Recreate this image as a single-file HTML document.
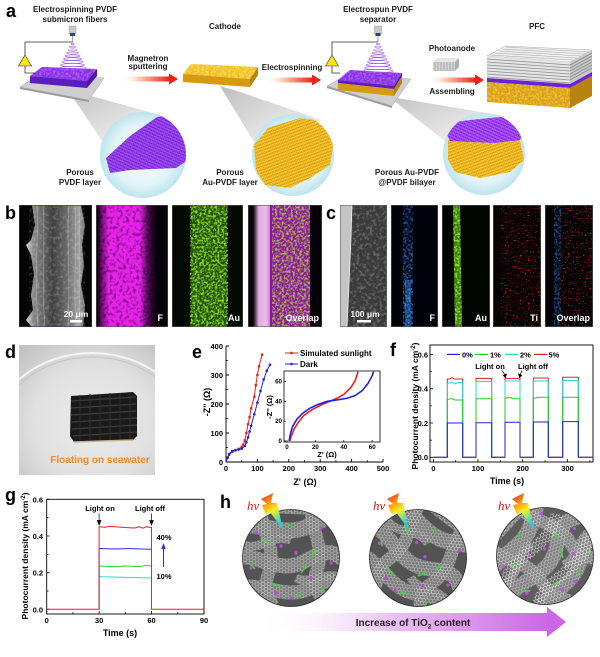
<!DOCTYPE html>
<html><head><meta charset="utf-8">
<style>
html,body{margin:0;padding:0;background:#fff;}
svg{display:block;}
text{font-family:"Liberation Sans",Arial,sans-serif;font-weight:bold;}
</style></head><body>
<svg width="600" height="657" viewBox="0 0 600 657" xmlns="http://www.w3.org/2000/svg" xmlns:xlink="http://www.w3.org/1999/xlink">
<defs>
 <linearGradient id="arr" x1="0" x2="1" y1="0" y2="0">
  <stop offset="0" stop-color="#fff" stop-opacity="0"/>
  <stop offset="0.35" stop-color="#fbcdb3"/>
  <stop offset="1" stop-color="#e8231a"/>
 </linearGradient>
 <radialGradient id="cyc" cx="0.5" cy="0.5" r="0.5">
  <stop offset="0" stop-color="#f6fcfd"/>
  <stop offset="0.7" stop-color="#e2f4f8"/>
  <stop offset="1" stop-color="#bde4ee"/>
 </radialGradient>
 <linearGradient id="wedge" x1="0" y1="0" x2="1" y2="1">
  <stop offset="0" stop-color="#b5b5b5" stop-opacity="0.9"/>
  <stop offset="1" stop-color="#e6e6e6" stop-opacity="0.5"/>
 </linearGradient>
 <pattern id="pm" width="6" height="6" patternUnits="userSpaceOnUse" patternTransform="rotate(25)">
  <rect width="6" height="6" fill="#7426dc"/>
  <path d="M0,1.5H6M0,4.5H6" stroke="#c35cff" stroke-width="1.4"/>
  <path d="M1.5,0V6M4.5,0V6" stroke="#9a44f4" stroke-width="1"/>
 </pattern>
 <pattern id="gm" width="6" height="6" patternUnits="userSpaceOnUse" patternTransform="rotate(-20)">
  <rect width="6" height="6" fill="#d99a10"/>
  <path d="M0,1.5H6M0,4.5H6" stroke="#fbd23a" stroke-width="1.4"/>
  <path d="M1.5,0V6M4.5,0V6" stroke="#efb520" stroke-width="1"/>
 </pattern>
 <pattern id="hex" width="6" height="3.464" patternUnits="userSpaceOnUse">
  <path d="M0,1.732 L1,0 L3,0 L4,1.732 L3,3.464 L1,3.464 Z M4,1.732 H6" fill="none" stroke="#d6d6d6" stroke-width="0.45"/>
 </pattern>
 <pattern id="hex2" width="6" height="3.464" patternUnits="userSpaceOnUse">
  <path d="M0,1.732 L1,0 L3,0 L4,1.732 L3,3.464 L1,3.464 Z M4,1.732 H6" fill="none" stroke="#f2f2f2" stroke-width="0.5"/>
 </pattern>
 <filter id="spk" x="0" y="0" width="1" height="1">
  <feTurbulence type="fractalNoise" baseFrequency="0.45" numOctaves="2" seed="4" result="n"/>
  <feColorMatrix in="n" type="matrix" values="0 0 0 0 0  0 0 0 0 0  0 0 0 0 0  4 0 0 0 -1.7" result="a"/>
  <feComposite in="SourceGraphic" in2="a" operator="in"/>
 </filter>
 <filter id="spk2" x="0" y="0" width="1" height="1">
  <feTurbulence type="fractalNoise" baseFrequency="0.3" numOctaves="2" seed="9" result="n"/>
  <feColorMatrix in="n" type="matrix" values="0 0 0 0 0  0 0 0 0 0  0 0 0 0 0  4 0 0 0 -1.9" result="a"/>
  <feComposite in="SourceGraphic" in2="a" operator="in"/>
 </filter>
 <filter id="sparse" x="0" y="0" width="1" height="1">
  <feTurbulence type="fractalNoise" baseFrequency="0.6" numOctaves="1" seed="2" result="n"/>
  <feColorMatrix in="n" type="matrix" values="0 0 0 0 0  0 0 0 0 0  0 0 0 0 0  9 0 0 0 -5.6" result="a"/>
  <feComposite in="SourceGraphic" in2="a" operator="in"/>
 </filter>
 <linearGradient id="magF" x1="0" x2="1" y1="0" y2="0">
  <stop offset="0" stop-color="#e01ee4" stop-opacity="0"/>
  <stop offset="0.1" stop-color="#e01ee4" stop-opacity="0.6"/>
  <stop offset="0.2" stop-color="#e822ec" stop-opacity="1"/>
  <stop offset="0.72" stop-color="#e822ec" stop-opacity="1"/>
  <stop offset="0.85" stop-color="#b018b8" stop-opacity="0.45"/>
  <stop offset="1" stop-color="#800888" stop-opacity="0"/>
 </linearGradient>
 <linearGradient id="pinkB" x1="0" x2="1" y1="0" y2="0">
  <stop offset="0" stop-color="#c890c8" stop-opacity="0"/>
  <stop offset="0.3" stop-color="#e0b0e0"/>
  <stop offset="0.7" stop-color="#e8bce8"/>
  <stop offset="1" stop-color="#c860d0"/>
 </linearGradient>
 <linearGradient id="blueF" x1="0" x2="0" y1="0" y2="1">
  <stop offset="0" stop-color="#1a4a90"/>
  <stop offset="0.6" stop-color="#2a70c8"/>
  <stop offset="1" stop-color="#3a90f0"/>
 </linearGradient>
 <linearGradient id="bolt" x1="0" y1="0" x2="0.4" y2="1">
  <stop offset="0" stop-color="#e8201a"/>
  <stop offset="0.35" stop-color="#ff9a10"/>
  <stop offset="0.6" stop-color="#f4f020"/>
  <stop offset="1" stop-color="#20d0e8"/>
 </linearGradient>
 <linearGradient id="harr" x1="0" x2="1" y1="0" y2="0">
  <stop offset="0" stop-color="#fff" stop-opacity="0"/>
  <stop offset="0.45" stop-color="#ecc4f4"/>
  <stop offset="1" stop-color="#cc66e6"/>
 </linearGradient>
 <linearGradient id="semg" x1="0" x2="1" y1="0" y2="0">
  <stop offset="0" stop-color="#dadada"/>
  <stop offset="0.12" stop-color="#8a8a8a"/>
  <stop offset="0.45" stop-color="#3e3e3e"/>
  <stop offset="0.7" stop-color="#6a6a6a"/>
  <stop offset="0.9" stop-color="#a0a0a0"/>
  <stop offset="1" stop-color="#707070"/>
 </linearGradient>
 <radialGradient id="photo" cx="0.55" cy="0.6" r="0.75">
  <stop offset="0" stop-color="#ececec"/>
  <stop offset="0.6" stop-color="#e0e0e0"/>
  <stop offset="1" stop-color="#c4c4c4"/>
 </radialGradient>
 <clipPath id="c1"><circle cx="143" cy="155" r="43"/></clipPath>
 <clipPath id="c2"><circle cx="293" cy="155" r="41"/></clipPath>
 <clipPath id="c3"><circle cx="484" cy="154" r="41"/></clipPath>
 <clipPath id="hcl"><circle cx="0" cy="0" r="48.5"/></clipPath>
 <clipPath id="dcl"><rect x="19" y="345" width="136" height="130"/></clipPath>
 <g id="rib">
  <rect x="-55" y="-55" width="110" height="110" fill="#4a4a4a"/>
  <g fill="none" stroke="#747474">
   <path d="M-50,-50 C-20,-55 10,-45 45,-52" stroke-width="12"/>
   <path d="M-60,-28 C-35,-42 -10,-18 18,-32 S50,-45 62,-30" stroke-width="16"/>
   <path d="M-60,2 C-38,-10 -15,18 12,4 S42,-8 60,8" stroke-width="15"/>
   <path d="M-58,32 C-32,20 -8,44 20,30 S45,24 60,38" stroke-width="14"/>
   <path d="M-28,-60 C-36,-30 -12,-12 -22,14 S-12,42 -20,60" stroke-width="13"/>
   <path d="M22,-60 C14,-34 36,-14 26,12 S42,38 30,60" stroke-width="13"/>
   <path d="M-55,52 C-30,48 0,62 30,55" stroke-width="12"/>
   <path d="M-50,-14 C-30,-5 -20,-25 0,-18" stroke-width="9"/>
   <path d="M5,20 C20,28 35,10 55,22" stroke-width="9"/>
  </g>
  <g fill="none" stroke="url(#hex)">
   <path d="M-50,-50 C-20,-55 10,-45 45,-52" stroke-width="12"/>
   <path d="M-60,-28 C-35,-42 -10,-18 18,-32 S50,-45 62,-30" stroke-width="16"/>
   <path d="M-60,2 C-38,-10 -15,18 12,4 S42,-8 60,8" stroke-width="15"/>
   <path d="M-58,32 C-32,20 -8,44 20,30 S45,24 60,38" stroke-width="14"/>
   <path d="M-28,-60 C-36,-30 -12,-12 -22,14 S-12,42 -20,60" stroke-width="13"/>
   <path d="M22,-60 C14,-34 36,-14 26,12 S42,38 30,60" stroke-width="13"/>
   <path d="M-55,52 C-30,48 0,62 30,55" stroke-width="12"/>
   <path d="M-50,-14 C-30,-5 -20,-25 0,-18" stroke-width="9"/>
   <path d="M5,20 C20,28 35,10 55,22" stroke-width="9"/>
  </g>
  <path d="M-30,-20 l8,5 M10,15 l6,-8 M-20,25 l10,3 M25,-10 l-4,9 M-5,-35 l7,4 M30,30 l6,6 M-42,5 l6,6 M5,38 l8,-3" stroke="#3bd13b" stroke-width="1.6" fill="none"/>
  <g fill="#c23be8">
   <circle cx="-35" cy="-25" r="1.7"/><circle cx="5" cy="-5" r="1.7"/><circle cx="30" cy="-30" r="1.7"/>
   <circle cx="-15" cy="35" r="1.7"/><circle cx="20" cy="20" r="1.7"/><circle cx="-40" cy="10" r="1.7"/>
   <circle cx="40" cy="5" r="1.7"/><circle cx="0" cy="40" r="1.7"/><circle cx="-10" cy="-12" r="1.7"/>
  </g>
  <rect x="-55" y="-55" width="110" height="110" fill="#bbbbbb" opacity="0.08"/>
 </g>
</defs>

<rect width="600" height="657" fill="#fff"/>

<!-- ================= Panel a ================= -->
<text x="6" y="17" font-size="18">a</text>
<g font-size="8" text-anchor="middle" fill="#1a1a1a">
 <text x="75" y="12">Electrospinning PVDF</text>
 <text x="75" y="22">submicron fibers</text>
 <text x="148" y="61">Magnetron</text>
 <text x="148" y="69">sputtering</text>
 <text x="225" y="29">Cathode</text>
 <text x="292" y="70">Electrospinning</text>
 <text x="378" y="12">Electrospun PVDF</text>
 <text x="378" y="22">separator</text>
 <text x="452" y="51">Photoanode</text>
 <text x="452" y="94">Assembling</text>
 <text x="537" y="29">PFC</text>
 <text x="80" y="175">Porous</text>
 <text x="80" y="185">PVDF layer</text>
 <text x="230" y="175">Porous</text>
 <text x="230" y="185">Au-PVDF layer</text>
 <text x="407" y="175">Porous Au-PVDF</text>
 <text x="407" y="185">@PVDF bilayer</text>
</g>

<polygon points="66,87 80,93 168,117 102,141" fill="url(#wedge)"/>
<polygon points="220,86 234,90 322,120 254,142" fill="url(#wedge)"/>
<polygon points="383,92 397,98 505,116 446,142" fill="url(#wedge)"/>

<circle cx="143" cy="155" r="43" fill="url(#cyc)"/>
<circle cx="293" cy="155" r="41" fill="url(#cyc)"/>
<circle cx="484" cy="154" r="41" fill="url(#cyc)"/>
<g clip-path="url(#c1)">
 <polygon points="106,158 130,136 157,117 178,114 188,124 188,160 176,168 130,170 110,173" fill="url(#pm)"/>
 <polygon points="106,158 130,136 157,117 178,114 188,124 188,160 176,168 130,170 110,173" fill="#3010a0" opacity="0.12"/>
</g>
<g clip-path="url(#c2)">
 <polygon points="254,145 268,128 300,118 328,122 334,140 330,165 310,178 290,188 265,185 256,170" fill="url(#gm)"/>
</g>
<g clip-path="url(#c3)">
 <polygon points="448,140 470,142 495,143 520,140 524,160 510,172 480,178 455,172 448,160" fill="url(#gm)"/>
 <polygon points="447,135 455,122 470,120 500,117 520,116 526,128 520,140 495,143 470,142 450,141" fill="url(#pm)"/>
</g>

<polygon points="20,87 89,100 89,102 20,89" fill="#9a9a9a"/>
<polygon points="20,87 40,74 104,78 89,100" fill="#cfcfcf" stroke="#aaa" stroke-width="0.5"/>
<polygon points="30,76 42,67 97,69 87,81" fill="#8531e6"/>
<polygon points="30,76 42,67 97,69 87,81" fill="#c070ff" filter="url(#spk)" opacity="0.7"/>
<polygon points="30,76 87,81 87,88 30,83" fill="#5b1cc0"/>
<polygon points="87,81 97,69 97,76 87,88" fill="#4c17a6"/>
<polyline points="72.5,42 25,42 25,73 35,73" fill="none" stroke="#333" stroke-width="0.8"/>
<polygon points="25,55 31.5,66 18.5,66" fill="#ffe600" stroke="#333" stroke-width="0.6"/>
<rect x="69" y="26" width="7" height="8" fill="#c8c8c8" stroke="#888" stroke-width="0.4"/>
<rect x="70" y="33" width="5" height="3" fill="#2b3aa8"/>
<line x1="72.5" y1="36" x2="72.5" y2="42" stroke="#666" stroke-width="0.6"/>
<g fill="none" stroke="#9b5ae0" stroke-width="0.6">
 <ellipse cx="72.5" cy="44" rx="1.5" ry="0.8"/><ellipse cx="72.5" cy="47" rx="3" ry="0.9"/>
 <ellipse cx="72.5" cy="50" rx="4.5" ry="1"/><ellipse cx="72.5" cy="53" rx="6" ry="1.1"/>
 <ellipse cx="72.5" cy="56" rx="7.5" ry="1.2"/><ellipse cx="72.5" cy="59" rx="9" ry="1.3"/>
 <ellipse cx="72.5" cy="62" rx="10.5" ry="1.4"/><ellipse cx="72.5" cy="65" rx="12" ry="1.5"/>
 <ellipse cx="72.5" cy="68" rx="13.5" ry="1.6"/>
</g>

<rect x="122" y="76.5" width="48" height="5" fill="url(#arr)"/>
<polygon points="169,73.5 178,79 169,84.5" fill="#e8231a"/>
<rect x="266" y="77.5" width="47" height="5" fill="url(#arr)"/>
<polygon points="312,74.5 321,80 312,85.5" fill="#e8231a"/>
<rect x="428" y="77.5" width="48" height="5" fill="url(#arr)"/>
<polygon points="475,74.5 484,80 475,85.5" fill="#e8231a"/>

<polygon points="183,74 191,64 258,67 250,79" fill="#f2c025"/>
<polygon points="183,74 191,64 258,67 250,79" fill="#ffe27a" filter="url(#spk)" opacity="0.7"/>
<polygon points="183,74 250,79 250,87 183,82" fill="#d69a12"/>
<polygon points="250,79 258,67 258,75 250,87" fill="#b8820c"/>

<polygon points="327,86 392,106 392,108 327,88" fill="#9a9a9a"/>
<polygon points="327,86 352,72 411,79 392,106" fill="#cfcfcf" stroke="#aaa" stroke-width="0.5"/>
<polygon points="338,80 350,70 402,73 394,86" fill="#8531e6"/>
<polygon points="338,80 350,70 402,73 394,86" fill="#c070ff" filter="url(#spk)" opacity="0.7"/>
<polygon points="338,80 394,86 394,89 338,83" fill="#5b1cc0"/>
<polygon points="338,83 394,89 394,96 338,90" fill="#d69a12"/>
<polygon points="394,86 402,73 402,76 394,89" fill="#4c17a6"/>
<polygon points="394,89 402,76 402,83 394,96" fill="#b8820c"/>
<polyline points="378,42 332,42 332,73 340,73" fill="none" stroke="#333" stroke-width="0.8"/>
<polygon points="332,55 338.5,66 325.5,66" fill="#ffe600" stroke="#333" stroke-width="0.6"/>
<rect x="374.5" y="26" width="7" height="8" fill="#c8c8c8" stroke="#888" stroke-width="0.4"/>
<rect x="375.5" y="33" width="5" height="3" fill="#2b3aa8"/>
<line x1="378" y1="36" x2="378" y2="42" stroke="#666" stroke-width="0.6"/>
<g fill="none" stroke="#9b5ae0" stroke-width="0.6">
 <ellipse cx="378" cy="44" rx="1.5" ry="0.8"/><ellipse cx="378" cy="47" rx="3" ry="0.9"/>
 <ellipse cx="378" cy="50" rx="4.5" ry="1"/><ellipse cx="378" cy="53" rx="6" ry="1.1"/>
 <ellipse cx="378" cy="56" rx="7.5" ry="1.2"/><ellipse cx="378" cy="59" rx="9" ry="1.3"/>
 <ellipse cx="378" cy="62" rx="10.5" ry="1.4"/><ellipse cx="378" cy="65" rx="12" ry="1.5"/>
 <ellipse cx="378" cy="68" rx="13.5" ry="1.6"/><ellipse cx="378" cy="71" rx="15" ry="1.7"/>
</g>

<g>
 <polygon points="433,62 437,58 459,58 455,62" fill="#e6e6e6"/>
 <rect x="433" y="62" width="22" height="9" fill="#d4d4d4"/>
 <polygon points="455,62 459,58 459,67 455,71" fill="#b0b0b0"/>
 <path d="M435,62V71M438,62V71M441,62V71M444,62V71M447,62V71M450,62V71M453,62V71" stroke="#8a8a8a" stroke-width="0.6"/>
</g>

<g>
 <polygon points="487,56 505,46 592,50 570,62" fill="#f0f0f0" stroke="#999" stroke-width="0.4"/>
 <path d="M490,55 L573,60 M494,53 L577,58 M498,51 L581,56 M502,49 L585,54 M506,47 L589,52" stroke="#a8a8a8" stroke-width="0.6"/>
 <polygon points="487,56 570,62 570,84 487,78" fill="#e4e4e4"/>
 <path d="M487,59 L570,65 M487,62 L570,68 M487,65 L570,71 M487,68 L570,74 M487,71 L570,77 M487,74 L570,80 M487,77 L570,83" stroke="#8c8c8c" stroke-width="0.8"/>
 <polygon points="570,62 592,50 592,72 570,84" fill="#c8c8c8"/>
 <path d="M570,65 L592,53 M570,68 L592,56 M570,71 L592,59 M570,74 L592,62 M570,77 L592,65 M570,80 L592,68" stroke="#888" stroke-width="0.8"/>
 <polygon points="487,78 570,84 592,72 592,76 570,88 487,82" fill="#6a24d6"/>
 <polygon points="487,82 570,88 570,108 487,102" fill="#d9a016"/>
 <polygon points="487,82 570,88 570,108 487,102" fill="#f7d050" filter="url(#spk)" opacity="0.7"/>
 <polygon points="570,88 592,76 592,96 570,108" fill="#b8830e"/>
</g>

<!-- ================= Panel b ================= -->
<text x="5" y="219" font-size="18">b</text>
<rect x="19" y="205" width="73" height="122" fill="#050505"/>
<polygon points="32,205 35,225 31,240 26,245 31,255 34,275 31,295 33,310 26,320 32,327 83,327 85,305 81,285 84,265 82,245 85,225 81,205" fill="url(#semg)"/>
<g fill="none" stroke="#c4c4c4" stroke-width="0.6" opacity="0.7">
 <path d="M37,205 C39,235 34,265 38,327"/><path d="M43,205 C46,245 41,285 45,327"/>
 <path d="M69,205 C66,235 71,275 68,327"/><path d="M75,205 C77,245 73,285 76,327"/><path d="M79,205 C81,235 78,295 80,327"/>
</g>
<rect x="29" y="205" width="56" height="122" fill="#ffffff" filter="url(#spk2)" opacity="0.18"/>
<rect x="19.3" y="205.3" width="72.4" height="121.4" fill="none" stroke="#3a3a70" stroke-width="0.6"/>
<text x="76" y="317" font-size="8.5" fill="#fff" text-anchor="middle">20 μm</text>
<rect x="70" y="320" width="12" height="2.5" fill="#fff"/>
<rect x="96" y="205" width="72" height="122" fill="#080008"/>
<rect x="97" y="205" width="60" height="122" fill="url(#magF)"/>
<rect x="97" y="205" width="60" height="122" fill="#000" filter="url(#spk2)" opacity="0.4"/>
<rect x="96.3" y="205.3" width="71.4" height="121.4" fill="none" stroke="#555" stroke-width="0.6"/>
<text x="163" y="321" font-size="9" fill="#fff" text-anchor="end">F</text>
<rect x="172" y="205" width="71" height="122" fill="#040a02"/>
<rect x="191" y="205" width="36" height="122" fill="#244e08"/>
<rect x="190" y="205" width="38" height="122" fill="#84dc22" filter="url(#spk)"/>
<rect x="172.3" y="205.3" width="70.4" height="121.4" fill="none" stroke="#555" stroke-width="0.6"/>
<text x="240" y="321" font-size="9" fill="#fff" text-anchor="end">Au</text>
<rect x="248" y="205" width="74" height="122" fill="#060006"/>
<rect x="253" y="205" width="19" height="122" fill="url(#pinkB)"/>
<rect x="270" y="205" width="40" height="122" fill="#8a1898"/>
<rect x="272" y="205" width="38" height="122" fill="#b8d850" filter="url(#spk)" opacity="0.8"/>
<rect x="248.3" y="205.3" width="73.4" height="121.4" fill="none" stroke="#555" stroke-width="0.6"/>
<text x="319" y="321" font-size="9" fill="#fff" text-anchor="end">Overlap</text>

<!-- ================= Panel c ================= -->
<text x="326" y="219" font-size="18">c</text>
<rect x="340" y="205" width="47" height="122" fill="#3a3a3a"/>
<rect x="340" y="205" width="47" height="122" fill="#9a9a9a" filter="url(#spk2)" opacity="0.45"/>
<polygon points="340,205 352,205 351,245 349,285 347,327 340,327" fill="#c4c4c4"/>
<path d="M352,205 C351,245 349,285 347,327" stroke="#eee" stroke-width="0.8" fill="none"/>
<rect x="340.3" y="205.3" width="46.4" height="121.4" fill="none" stroke="#666" stroke-width="0.6"/>
<text x="365" y="317" font-size="8.5" fill="#fff" text-anchor="middle">100 μm</text>
<rect x="357" y="320" width="14" height="2.5" fill="#fff"/>

<rect x="391" y="205" width="47" height="122" fill="#01030a"/>
<rect x="403" y="205" width="10" height="122" fill="url(#blueF)" filter="url(#spk)" opacity="0.9"/>
<rect x="405" y="280" width="6" height="47" fill="#3a8ae8" opacity="0.45"/>
<rect x="391.3" y="205.3" width="46.4" height="121.4" fill="none" stroke="#555" stroke-width="0.6"/>
<text x="435" y="321" font-size="9" fill="#fff" text-anchor="end">F</text>

<rect x="442" y="205" width="48" height="122" fill="#020602"/>
<polygon points="453,205 460,205 462,327 455,327" fill="#3a7a10"/>
<polygon points="453,205 460,205 462,327 455,327" fill="#8ae030" filter="url(#spk)"/>
<rect x="442.3" y="205.3" width="47.4" height="121.4" fill="none" stroke="#555" stroke-width="0.6"/>
<text x="487" y="321" font-size="9" fill="#fff" text-anchor="end">Au</text>

<rect x="493" y="205" width="48" height="122" fill="#070101"/>
<rect x="501" y="205" width="40" height="122" fill="#e02020" filter="url(#sparse)"/>
<rect x="493.3" y="205.3" width="47.4" height="121.4" fill="none" stroke="#555" stroke-width="0.6"/>
<text x="538" y="321" font-size="9" fill="#fff" text-anchor="end">Ti</text>

<rect x="545" y="205" width="48" height="122" fill="#040204"/>
<rect x="554" y="205" width="7" height="122" fill="#2a78d8" filter="url(#spk)" opacity="0.6"/>
<rect x="559" y="205" width="34" height="122" fill="#e02020" filter="url(#sparse)"/>
<rect x="545.3" y="205.3" width="47.4" height="121.4" fill="none" stroke="#555" stroke-width="0.6"/>
<text x="590" y="321" font-size="9" fill="#fff" text-anchor="end">Overlap</text>

<!-- ================= Panel d ================= -->
<text x="5" y="358" font-size="18">d</text>
<g clip-path="url(#dcl)">
 <rect x="19" y="345" width="136" height="130" fill="url(#photo)"/>
 <ellipse cx="92" cy="445" rx="104" ry="92" fill="none" stroke="#f4f4f4" stroke-width="2"/>
 <ellipse cx="92" cy="445" rx="100" ry="88" fill="none" stroke="#c4c4c4" stroke-width="1"/>
 <polygon points="71,396 133,392 137,396 137,436 133,440 74,442 70,436" fill="#1a1a1a"/>
 <path d="M71,401 L136,397 M71,408 L136,404 M71,415 L136,411 M72,422 L137,418 M72,429 L137,425 M73,436 L137,432" stroke="#3e3e3e" stroke-width="1.2"/>
 <path d="M80,395 V441 M90,394 V441 M100,394 V441 M110,393 V440 M120,393 V440 M130,392 V440" stroke="#2e2e2e" stroke-width="1"/>
 <path d="M74,442 L133,440" stroke="#c8b488" stroke-width="1.5"/>
 <text x="100" y="463" font-size="10" fill="#f28a26" text-anchor="middle">Floating on seawater</text>
</g>

<!-- ================= Panel e ================= -->
<text x="192" y="358" font-size="18">e</text>
<g stroke="#000" stroke-width="0.9" fill="none">
 <path d="M226,346 V462 H383"/>
 <path d="M257.4,462v-3 M288.8,462v-3 M320.2,462v-3 M351.6,462v-3 M383,462v-3"/>
 <path d="M241.7,462v-1.8 M273.1,462v-1.8 M304.5,462v-1.8 M335.9,462v-1.8 M367.3,462v-1.8"/>
 <path d="M226,433h3 M226,404h3 M226,375h3 M226,346h3"/>
 <path d="M226,447.5h1.8 M226,418.5h1.8 M226,389.5h1.8 M226,360.5h1.8"/>
</g>
<g font-size="7.5" fill="#000" text-anchor="middle">
 <text x="226" y="471">0</text><text x="257.4" y="471">100</text><text x="288.8" y="471">200</text>
 <text x="320.2" y="471">300</text><text x="351.6" y="471">400</text><text x="383" y="471">500</text>
</g>
<g font-size="7.5" fill="#000" text-anchor="end">
 <text x="223" y="465">0</text><text x="223" y="436">100</text><text x="223" y="407">200</text>
 <text x="223" y="378">300</text><text x="223" y="349">400</text>
</g>
<text x="305" y="485" font-size="9" text-anchor="middle">Z' (Ω)</text>
<text transform="translate(210,402) rotate(-90)" font-size="9" text-anchor="middle">-Z'' (Ω)</text>
<polyline fill="none" stroke="#e8221c" stroke-width="1" points="226,462 227.6,457.6 229.1,454.8 232.3,451.9 235.4,450.4 238.6,448.9 241.7,446.9 243.3,444.6 244.8,440.3 246.4,433 248,424.3 249.6,417.1 251.1,408.4 254.3,396.8 255.8,385.2 257.4,375 259,366.3 262.1,354.7"/>
<g fill="#e8221c">
 <rect x="226.3" y="456.4" width="2.4" height="2.4"/><rect x="227.9" y="453.6" width="2.4" height="2.4"/><rect x="231.1" y="450.7" width="2.4" height="2.4"/><rect x="234.2" y="449.2" width="2.4" height="2.4"/><rect x="237.4" y="447.7" width="2.4" height="2.4"/><rect x="240.5" y="445.7" width="2.4" height="2.4"/><rect x="242.1" y="443.4" width="2.4" height="2.4"/><rect x="243.6" y="439.1" width="2.4" height="2.4"/><rect x="245.2" y="431.8" width="2.4" height="2.4"/><rect x="246.8" y="423.1" width="2.4" height="2.4"/><rect x="248.4" y="415.9" width="2.4" height="2.4"/><rect x="249.9" y="407.2" width="2.4" height="2.4"/><rect x="253.1" y="395.6" width="2.4" height="2.4"/><rect x="254.6" y="384" width="2.4" height="2.4"/><rect x="256.2" y="373.8" width="2.4" height="2.4"/><rect x="257.8" y="365.1" width="2.4" height="2.4"/><rect x="260.9" y="353.5" width="2.4" height="2.4"/>
</g>
<polyline fill="none" stroke="#2020e0" stroke-width="1" points="226,462 227.6,457.6 229.1,453.9 232.3,451 235.4,450.1 238.6,449.5 241.7,448.7 244.8,446 246.4,442.3 248,437.4 249.6,431.5 251.1,425.8 254.3,414.2 257.4,402.6 260.5,391 263.7,379.4 266.8,370.7 270,364.8"/>
<g fill="#2020e0">
 <circle cx="227.6" cy="457.6" r="1.3"/><circle cx="229.1" cy="453.9" r="1.3"/><circle cx="232.3" cy="451" r="1.3"/><circle cx="235.4" cy="450.1" r="1.3"/><circle cx="238.6" cy="449.5" r="1.3"/><circle cx="241.7" cy="448.7" r="1.3"/><circle cx="244.8" cy="446" r="1.3"/><circle cx="246.4" cy="442.3" r="1.3"/><circle cx="248" cy="437.4" r="1.3"/><circle cx="249.6" cy="431.5" r="1.3"/><circle cx="251.1" cy="425.8" r="1.3"/><circle cx="254.3" cy="414.2" r="1.3"/><circle cx="257.4" cy="402.6" r="1.3"/><circle cx="260.5" cy="391" r="1.3"/><circle cx="263.7" cy="379.4" r="1.3"/><circle cx="266.8" cy="370.7" r="1.3"/><circle cx="270" cy="364.8" r="1.3"/>
</g>
<line x1="285" y1="353" x2="298" y2="353" stroke="#e8221c" stroke-width="1"/>
<rect x="290.3" y="351.8" width="2.4" height="2.4" fill="#e8221c"/>
<text x="300" y="356" font-size="8">Simulated sunlight</text>
<line x1="285" y1="364" x2="298" y2="364" stroke="#2020e0" stroke-width="1"/>
<circle cx="291.5" cy="364" r="1.3" fill="#2020e0"/>
<text x="300" y="367" font-size="8">Dark</text>
<rect x="284" y="371" width="96" height="71" fill="#fff" stroke="#000" stroke-width="0.8"/>
<g stroke="#000" stroke-width="0.7">
 <path d="M287,442v-2 M315.4,442v-2 M343.8,442v-2 M372.2,442v-2"/>
 <path d="M284,441h2 M284,421.2h2 M284,401.4h2 M284,381.6h2"/>
</g>
<g font-size="6.2" text-anchor="middle">
 <text x="287" y="449">0</text><text x="315.4" y="449">20</text><text x="343.8" y="449">40</text><text x="372.2" y="449">60</text>
</g>
<g font-size="6.2" text-anchor="end">
 <text x="282" y="443">0</text><text x="282" y="423.2">20</text><text x="282" y="403.4">40</text><text x="282" y="383.6">60</text>
</g>
<text x="327" y="457" font-size="7.5" text-anchor="middle">Z' (Ω)</text>
<text transform="translate(272,407) rotate(-90)" font-size="7.5" text-anchor="middle">-Z'' (Ω)</text>
<polyline fill="none" stroke="#e8221c" stroke-width="1.6" points="289.8,441 291.3,436.1 294.1,429.1 298.4,422.2 304,415.3 312.6,409.3 322.5,404.4 329.6,401.4 336.7,398.4 343.8,394.5 350.9,387.5 355.2,380.6 358,371.7"/>
<polyline fill="none" stroke="#2020e0" stroke-width="1.6" points="289.1,441 290.6,433.1 292.7,426.2 296.9,419.2 302.6,413.3 309.7,408.3 318.2,404.4 326.8,401.4 336.7,399.9 346.6,398.4 355.2,395.5 362.3,390.5 367.9,383.6 372.2,375.7 373.6,371.7"/>

<!-- ================= Panel f ================= -->
<text x="390" y="356" font-size="18">f</text>
<rect x="430" y="345" width="163" height="117" fill="none" stroke="#000" stroke-width="0.9"/>
<g stroke="#000" stroke-width="0.8">
 <path d="M433.3,462v-3 M478,462v-3 M522.7,462v-3 M567.5,462v-3"/>
 <path d="M455.6,462v-1.8 M500.4,462v-1.8 M545.1,462v-1.8 M589.9,462v-1.8"/>
 <path d="M430,457.3h3 M430,423h3 M430,388.7h3 M430,354.4h3"/>
 <path d="M430,440.2h1.8 M430,405.9h1.8 M430,371.6h1.8"/>
</g>
<g font-size="7.5" text-anchor="middle">
 <text x="433.3" y="471">0</text><text x="478" y="471">100</text><text x="522.7" y="471">200</text><text x="567.5" y="471">300</text>
</g>
<g font-size="7.5" text-anchor="end">
 <text x="428" y="460">0.0</text><text x="428" y="426">0.2</text><text x="428" y="391.7">0.4</text><text x="428" y="357.4">0.6</text>
</g>
<text x="507" y="484" font-size="9" text-anchor="middle">Time (s)</text>
<text transform="translate(418,406) rotate(-90)" font-size="8.5" text-anchor="middle">Photocurrent density (mA cm<tspan dy="-3" font-size="6">-2</tspan><tspan dy="3">)</tspan></text>
<g fill="none" stroke-width="1">
 <path stroke="#e02020" d="M433.3,457.3 H447.3 V379 H450 L452,377.5 L454,379 H462.7 V457.3 H476 V378.4 H491.7 V457.3 H505 V378.4 H520 V457.3 H533.3 V378 H548.3 V457.3 H562.7 V377.2 H578.3 V457.3 H593"/>
 <path stroke="#22d4e4" d="M447.3,457.3 V383.5 L452,382 L455,384 L458,382.5 H462.7 V457.3 M476,457.3 V381.5 H491.7 V457.3 M505,457.3 V381 H520 V457.3 M533.3,457.3 V381 H548.3 V457.3 M562.7,457.3 V380.5 H578.3 V457.3"/>
 <path stroke="#22cc22" d="M447.3,457.3 V399.5 L452,398.5 L455,400 H462.7 V457.3 M476,457.3 V398.8 H491.7 V457.3 M505,457.3 V398 L510,397.5 L514,398.8 H520 V457.3 M533.3,457.3 V398.2 L540,397.3 H548.3 V457.3 M562.7,457.3 V397.3 H578.3 V457.3"/>
 <path stroke="#2222cc" d="M433.3,457.3 H447.3 V423 H462.7 V457.3 H476 V422.7 H491.7 V457.3 H505 V422.2 H520 V457.3 H533.3 V422 H548.3 V457.3 H562.7 V421.6 H578.3 V457.3 H593"/>
</g>
<g stroke-width="1.2">
 <line x1="447" y1="354.4" x2="460" y2="354.4" stroke="#2222cc"/>
 <line x1="475" y1="354.4" x2="488" y2="354.4" stroke="#22cc22"/>
 <line x1="505" y1="354.4" x2="518" y2="354.4" stroke="#22d4e4"/>
 <line x1="534" y1="354.4" x2="547" y2="354.4" stroke="#e02020"/>
</g>
<g font-size="7.5">
 <text x="462" y="357.3">0%</text><text x="490" y="357.3">1%</text><text x="520" y="357.3">2%</text><text x="548.5" y="357.3">5%</text>
</g>
<g font-size="7.5" text-anchor="middle">
 <text x="490" y="369">Light on</text><text x="533" y="369">Light off</text>
</g>
<g stroke="#000" stroke-width="0.7" fill="#000">
 <line x1="502" y1="370.5" x2="505" y2="375"/><polygon points="503.3,375.5 506.5,374 505.5,377.5"/>
 <line x1="522" y1="370.5" x2="520" y2="375"/><polygon points="518.5,374 521.7,375.2 519.6,377.6"/>
</g>

<!-- ================= Panel g ================= -->
<text x="5" y="501" font-size="18">g</text>
<rect x="46.7" y="499.3" width="157.3" height="114.7" fill="none" stroke="#000" stroke-width="0.9"/>
<g stroke="#000" stroke-width="0.8">
 <path d="M46.7,614v-3 M99.1,614v-3 M151.5,614v-3 M204,614v-3"/>
 <path d="M72.9,614v-1.8 M125.3,614v-1.8 M177.8,614v-1.8"/>
 <path d="M46.7,609.3h3 M46.7,572.7h3 M46.7,536h3 M46.7,499.3h3"/>
 <path d="M46.7,591h1.8 M46.7,554.4h1.8 M46.7,517.7h1.8"/>
</g>
<g font-size="7.5" text-anchor="middle">
 <text x="46.7" y="623">0</text><text x="99.1" y="623">30</text><text x="151.5" y="623">60</text><text x="204" y="623">90</text>
</g>
<g font-size="7.5" text-anchor="end">
 <text x="43" y="612.3">0.0</text><text x="43" y="575.7">0.2</text><text x="43" y="539">0.4</text><text x="43" y="502.3">0.6</text>
</g>
<text x="120" y="636" font-size="9" text-anchor="middle">Time (s)</text>
<text transform="translate(28,556) rotate(-90)" font-size="8.5" text-anchor="middle">Photocurrent density (mA cm<tspan dy="-3" font-size="6">-2</tspan><tspan dy="3">)</tspan></text>
<g fill="none" stroke-width="1">
 <path stroke="#30d8e0" d="M99.1,609.3 V576.6 L120,577.2 L151.5,578 V609.3"/>
 <path stroke="#2ed02e" d="M99.1,609.3 V566 L115,566.8 L125,566 L140,566.6 L146,565.5 L151.5,566 V609.3"/>
 <path stroke="#2a2ad0" d="M99.1,609.3 V548.5 L115,549 L130,548.6 L151.5,549.3 V609.3"/>
 <path stroke="#e8221c" d="M46.7,609.3 H99.1 V526.8 L105,527.2 L110,526.4 L125,527.5 L135,528 L139,526.6 L143,528.2 L146,526.8 L151.5,527.6 V609.3 H204"/>
</g>
<g font-size="7.5" text-anchor="middle">
 <text x="100" y="511">Light on</text><text x="150" y="511">Light off</text>
</g>
<g stroke="#000" stroke-width="0.7" fill="#000">
 <line x1="99.1" y1="513.5" x2="99.1" y2="521"/><polygon points="97.3,520.5 100.9,520.5 99.1,525"/>
 <line x1="151.5" y1="513.5" x2="151.5" y2="521"/><polygon points="149.7,520.5 153.3,520.5 151.5,525"/>
</g>
<g font-size="7.5" text-anchor="middle">
 <text x="164" y="540">40%</text><text x="164" y="579">10%</text>
</g>
<line x1="163.5" y1="567" x2="163.5" y2="548" stroke="#2a2ad0" stroke-width="1"/>
<polygon points="161.3,549 165.7,549 163.5,543" fill="#2a2ad0"/>

<!-- ================= Panel h ================= -->
<text x="220" y="508" font-size="18">h</text>
<g transform="translate(291,558)" clip-path="url(#hcl)"><use xlink:href="#rib"/></g>
<g transform="translate(418,558) rotate(35)" clip-path="url(#hcl)"><use xlink:href="#rib"/></g>
<g transform="translate(545,556) rotate(-50)" clip-path="url(#hcl)">
 <use xlink:href="#rib"/>
 <g fill="none" stroke="url(#hex2)">
  <path d="M-50,-10 C-25,-30 5,0 40,-18" stroke-width="12"/>
  <path d="M-40,25 C-15,15 10,38 45,22" stroke-width="12"/>
 </g>
 <circle r="49" fill="#ffffff" opacity="0.06"/>
</g>
<circle cx="291" cy="558" r="48.5" fill="none" stroke="#2a2a2a" stroke-width="0.8"/>
<circle cx="418" cy="558" r="48.5" fill="none" stroke="#2a2a2a" stroke-width="0.8"/>
<circle cx="545" cy="556" r="48.5" fill="none" stroke="#2a2a2a" stroke-width="0.8"/>
<g fill="url(#bolt)">
 <polygon points="261,499 273,493 271,503 277,503 283,530 270,512 266,515 262,505 267,504"/>
 <polygon points="387,499 399,493 397,503 403,503 409,530 396,512 392,515 388,505 393,504"/>
 <polygon points="512,499 524,493 522,503 528,503 534,530 521,512 517,515 513,505 518,504"/>
</g>
<g font-style="italic" font-size="13" fill="#d41a1a">
 <text x="247" y="510" style="font-family:'Liberation Serif',serif;font-weight:normal">hν</text>
 <text x="373" y="510" style="font-family:'Liberation Serif',serif;font-weight:normal">hν</text>
 <text x="498" y="510" style="font-family:'Liberation Serif',serif;font-weight:normal">hν</text>
</g>
<rect x="258" y="613" width="290" height="18" fill="url(#harr)"/>
<polygon points="547,607 566,622 547,637" fill="#cc66e6"/>
<text x="413" y="626" font-size="10" text-anchor="middle" fill="#222">Increase of TiO<tspan dy="2.5" font-size="6.5">2</tspan><tspan dy="-2.5"> content</tspan></text>
</svg>
</body></html>
